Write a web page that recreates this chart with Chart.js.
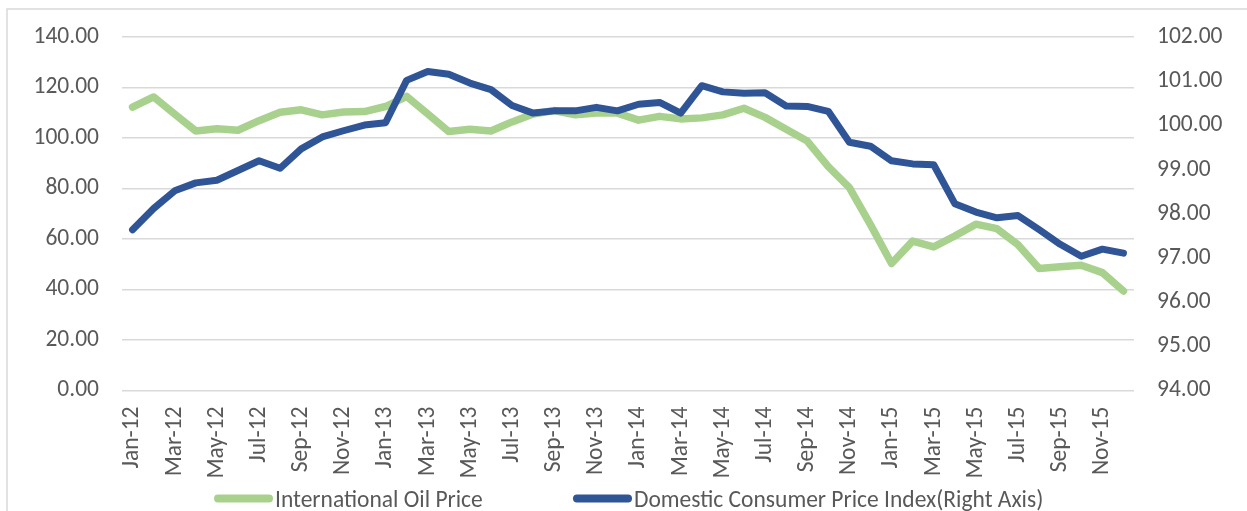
<!DOCTYPE html>
<html>
<head>
<meta charset="utf-8">
<script src="https://cdn.jsdelivr.net/npm/chart.js@4.4.1/dist/chart.umd.min.js"></script>
<style>
html,body{margin:0;padding:0;background:#fff;}
#wrap{position:relative;width:1247px;height:511px;}
</style>
</head>
<body>
<div id="wrap"><canvas id="c" width="1247" height="511"></canvas></div>
<script>
const categories = ["Jan-12","Feb-12","Mar-12","Apr-12","May-12","Jun-12","Jul-12","Aug-12","Sep-12","Oct-12","Nov-12","Dec-12",
"Jan-13","Feb-13","Mar-13","Apr-13","May-13","Jun-13","Jul-13","Aug-13","Sep-13","Oct-13","Nov-13","Dec-13",
"Jan-14","Feb-14","Mar-14","Apr-14","May-14","Jun-14","Jul-14","Aug-14","Sep-14","Oct-14","Nov-14","Dec-14",
"Jan-15","Feb-15","Mar-15","Apr-15","May-15","Jun-15","Jul-15","Aug-15","Sep-15","Oct-15","Nov-15","Dec-15"];

const oilPrice = [112.3,116.3,109.5,102.8,103.7,103.1,106.9,110.2,111.2,109.2,110.3,110.5,
112.5,116.5,109.6,102.6,103.5,102.8,106.4,109.5,110.9,109.2,109.9,109.9,
107.1,108.6,107.6,108.0,109.2,111.8,108.2,103.5,98.8,88.7,80.4,65.7,
50.3,59.2,56.9,61.2,65.9,64.1,57.7,48.3,49.0,49.6,46.7,39.4];

const cpi = [97.64,98.12,98.52,98.70,98.76,98.98,99.20,99.03,99.47,99.74,99.88,100.01,
100.06,101.02,101.22,101.16,100.96,100.81,100.45,100.28,100.33,100.33,100.41,100.33,
100.48,100.52,100.28,100.90,100.76,100.73,100.74,100.44,100.43,100.32,99.62,99.53,
99.20,99.13,99.11,98.23,98.04,97.91,97.96,97.64,97.31,97.04,97.20,97.11];

const seriesNames = ["International Oil Price","Domestic Consumer Price Index(Right Axis)"];
const seriesColors = ["#A9D18E","#2F5597"];

const FONT = "Carlito, Lato, 'Liberation Sans', sans-serif";
const FS = 23.5;
const TXT = "#595959";
const GRID = "#D9D9D9";

const framePlugin = {
  id: 'frame',
  beforeDraw(chart){
    const ctx = chart.ctx;
    ctx.save();
    ctx.fillStyle = '#fff';
    ctx.fillRect(0,0,chart.width,chart.height);
    ctx.strokeStyle = GRID;
    ctx.lineWidth = 1.5;
    ctx.beginPath();
    ctx.moveTo(7, chart.height+5);
    ctx.lineTo(7, 9);
    ctx.lineTo(chart.width+5, 9);
    ctx.stroke();
    ctx.restore();
  }
};

const legendPlugin = {
  id: 'customLegend',
  afterDraw(chart){
    const ctx = chart.ctx;
    const starts = [214, 573];
    ctx.save();
    ctx.font = FS + "px " + FONT;
    ctx.textBaseline = 'alphabetic';
    ctx.textAlign = 'left';
    chart.data.datasets.forEach((ds, i) => {
      const x0 = starts[i];
      const yc = 498.5;
      ctx.strokeStyle = ds.borderColor;
      ctx.lineWidth = 8;
      ctx.lineCap = 'round';
      ctx.beginPath();
      ctx.moveTo(x0 + 4, yc);
      ctx.lineTo(x0 + 55, yc);
      ctx.stroke();
      ctx.fillStyle = TXT;
      ctx.fillText(ds.label, x0 + 61, 506.5);
    });
    ctx.restore();
  }
};

new Chart(document.getElementById('c'), {
  type: 'line',
  data: {
    labels: categories,
    datasets: [
      {label: seriesNames[0], data: oilPrice, yAxisID: 'y', borderColor: seriesColors[0], backgroundColor: seriesColors[0],
       borderWidth: 7.5, pointRadius: 0, tension: 0, borderJoinStyle: 'round', borderCapStyle: 'round', order: 1},
      {label: seriesNames[1], data: cpi, yAxisID: 'y1', borderColor: seriesColors[1], backgroundColor: seriesColors[1],
       borderWidth: 7, pointRadius: 0, tension: 0, borderJoinStyle: 'round', borderCapStyle: 'round', order: 0}
    ]
  },
  options: {
    responsive: false,
    animation: false,
    devicePixelRatio: 1,
    layout: {padding: {top: 26, left: 0, right: 0, bottom: 0}},
    plugins: {legend: {display: false}, tooltip: {enabled: false}},
    scales: {
      x: {
        offset: true,
        grid: {display: false, drawTicks: false},
        border: {display: false},
        ticks: {
          autoSkip: false, maxRotation: 90, minRotation: 90, padding: 16,
          color: TXT, font: {family: FONT, size: FS},
          callback: function(v, i){ return i % 2 === 0 ? categories[i] : null; }
        },
        afterFit(s){ s.height = 120.5; }
      },
      y: {
        position: 'left', min: 0, max: 140,
        grid: {color: GRID, lineWidth: 1.5, drawTicks: false},
        border: {display: false},
        ticks: {stepSize: 20, padding: 23, color: TXT, font: {family: FONT, size: FS},
          callback: v => Number(v).toFixed(2)},
        afterFit(s){ s.width = 122; }
      },
      y1: {
        position: 'right', min: 94, max: 102,
        grid: {drawOnChartArea: false, drawTicks: false},
        border: {display: false},
        ticks: {stepSize: 1, padding: 23, color: TXT, font: {family: FONT, size: FS},
          callback: v => Number(v).toFixed(2)},
        afterFit(s){ s.width = 113; }
      }
    }
  },
  plugins: [framePlugin, legendPlugin]
});
</script>
</body>
</html>
